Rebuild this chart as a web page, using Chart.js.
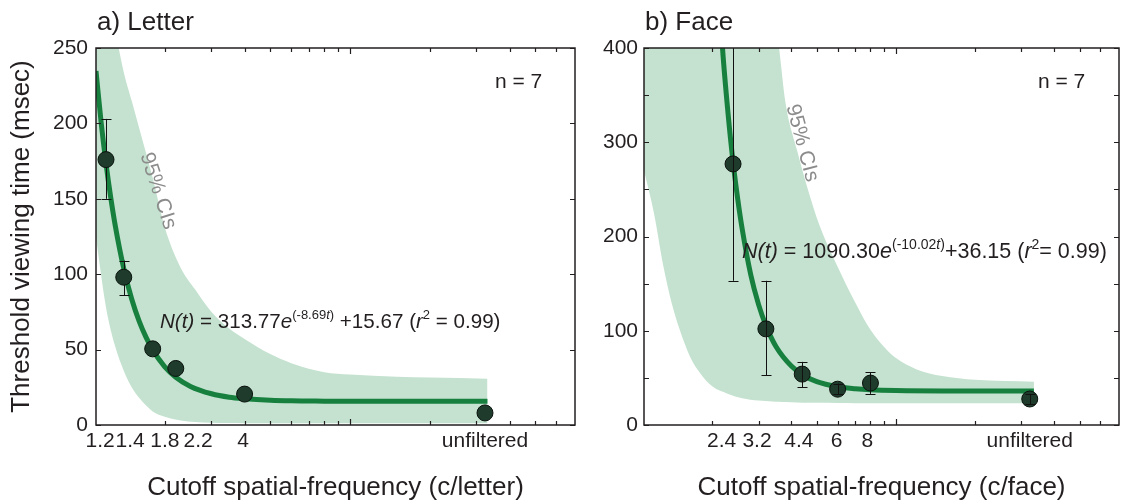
<!DOCTYPE html>
<html><head><meta charset="utf-8">
<script src="https://cdn.jsdelivr.net/npm/chart.js@4.4.1/dist/chart.umd.min.js"></script>
<style>
html,body{margin:0;padding:0;background:#fff;}
#wrap{position:relative;width:1128px;height:503px;overflow:hidden;background:#fff;}
#c1{position:absolute;left:0;top:0;}
#c2{position:absolute;left:590px;top:0;}
</style></head><body>
<div id="wrap"><canvas id="c1" width="590" height="503"></canvas><canvas id="c2" width="538" height="503"></canvas></div>
<script>
// ---------- DATA: panel a) Letter ----------
const letterCutoff    = [1.2, 1.4, 1.8, 2.2, 4, 32.3];
const letterThreshold = [176, 98, 50.5, 37.5, 20.5, 8];
const letterErrLow    = [150, 86, null, null, null, null];
const letterErrHigh   = [203, 109, null, null, null, null];
const letterFitX = [1.1, 1.15, 1.2, 1.25, 1.3, 1.4, 1.5, 1.6, 1.7, 1.8, 2.0, 2.2, 2.5, 3, 3.5, 4, 5, 6, 8, 10, 15, 20, 33];
const letterFitY = [234.7, 200.8, 173.3, 150.9, 132.3, 103.8, 83.6, 68.9, 58.1, 49.8, 38.6, 31.7, 25.6, 20.7, 18.4, 17.4, 16.4, 16.0, 15.8, 15.7, 15.7, 15.7, 15.7];
const letterBandX     = [1.1, 1.2, 1.3, 1.4, 1.5, 1.6, 1.8, 2.0, 2.3, 2.6, 3.0, 3.5, 4, 5, 6, 8, 10, 15, 20, 33];
const letterBandUpper = [335, 295, 262, 234, 215, 197, 164, 131, 104, 90, 75, 64, 57, 47, 41, 35, 33.5, 32, 31.5, 30.7];
const letterBandLower = [124, 78, 52, 36, 25, 18, 9, 5.5, 3, 2, 1.5, 1.3, 1.2, 1.2, 1.2, 1.2, 1.2, 1.2, 1.2, 1.2];
const letterTickPos    = [1.14, 1.48, 2.0, 2.67, 3.95, 32.3];
const letterTickLabels = ['1.2', '1.4', '1.8', '2.2', '4', 'unfiltered'];
const letterYTicks = [0, 50, 100, 150, 200, 250];

// ---------- DATA: panel b) Face ----------
const faceCutoff    = [2.4, 3.2, 4.4, 6, 8, 32.3];
const faceThreshold = [277, 102, 54, 38, 44.5, 27.6];
const faceErrLow    = [153, 53, 40, 33, 33, 22];
const faceErrHigh   = [450, 153, 67, 44, 56, 33];
const faceFitX = [2.1, 2.2, 2.3, 2.4, 2.5, 2.6, 2.8, 3.0, 3.2, 3.5, 4.0, 4.4, 5, 6, 7, 8, 10, 15, 20, 33.5];
const faceFitY = [471, 391, 329, 279, 240, 208, 160, 128, 105.6, 83, 62.5, 53.5, 46, 40.6, 38.5, 37.4, 36.6, 36.2, 36.2, 36.15];
const faceBandX     = [1.1, 1.2, 1.3, 1.4, 1.5, 1.65, 1.8, 2.0, 2.3, 2.6, 3.0, 3.4, 3.6, 3.8, 4.2, 4.6, 5.1, 6, 7, 8, 9, 10, 12, 15, 20, 33.5];
const faceBandUpper = [470, 470, 470, 470, 470, 470, 470, 470, 470, 470, 470, 455, 398, 342, 292, 252, 213, 168, 130, 101, 83, 71, 59, 52, 48, 46];
const faceBandLower = [270, 225, 170, 130, 102, 72, 55, 41, 33, 28.5, 26, 25, 24.7, 24.4, 24, 23.7, 23.5, 23.3, 23.2, 23, 23, 23, 23, 23, 23, 23];
const faceTickPos    = [2.17, 2.96, 4.27, 5.94, 7.78, 32.3];
const faceTickLabels = ['2.4', '3.2', '4.4', '6', '8', 'unfiltered'];
const faceYTicks = [0, 50, 100, 150, 200, 250, 300, 350, 400];

// minor log tick marks shared by both x axes
const xTickMarks = [2, 3, 4, 5, 6, 7, 8, 9, 10, 20, 30, 40, 50, 60];
const xMajorMarks = [10];

// ---------- styling ----------
const FF = '"Liberation Sans", Arial, Helvetica, sans-serif';
const TXT = '#231f20';
const BAND = '#c4e2cf';
const FIT = '#17803f';
const MARK = '#1e3b2c';

const zip = (xs, ys) => xs.map((x, i) => ({x, y: ys[i]}));

function drawRich(ctx, x, y, parts, size) {
  let cx = x;
  ctx.textBaseline = 'alphabetic';
  ctx.textAlign = 'left';
  for (const p of parts) {
    const fs = p.sup ? Math.round(size * 0.64) : size;
    ctx.font = (p.it ? 'italic ' : '') + fs + 'px ' + FF;
    const dy = p.sup ? -size * 0.42 : 0;
    ctx.fillText(p.t, cx, y + dy);
    cx += ctx.measureText(p.t).width;
  }
}

function decorPlugin(o) {
  return {
    id: 'decor',
    afterDatasetDraw(chart, args) {
      if (o.errAfterIndex === args.index) drawErr(chart);
    },
    afterDatasetsDraw(chart) {
      if (o.errAfterIndex === 'all') drawErr(chart);
    },
    afterDraw(chart) {
      const ctx = chart.ctx, a = chart.chartArea;
      const xs = chart.scales.x, ys = chart.scales.y;
      ctx.save();
      ctx.strokeStyle = TXT;
      ctx.lineWidth = 1.2;
      // tick marks (inward)
      ctx.beginPath();
      xTickMarks.forEach(v => {
        const px = Math.round(xs.getPixelForValue(v)) + 0.5;
        const len = xMajorMarks.includes(v) ? 6 : 4;
        ctx.moveTo(px, a.bottom); ctx.lineTo(px, a.bottom - len);
        ctx.moveTo(px, a.top); ctx.lineTo(px, a.top + len);
      });
      o.yMarks.forEach(v => {
        const py = Math.round(ys.getPixelForValue(v)) + 0.5;
        ctx.moveTo(a.left, py); ctx.lineTo(a.left + 5, py);
        ctx.moveTo(a.right, py); ctx.lineTo(a.right - 5, py);
      });
      ctx.stroke();
      // frame
      ctx.lineWidth = 1.5;
      ctx.strokeRect(a.left, a.top, a.right - a.left, a.bottom - a.top);
      // panel title
      ctx.fillStyle = TXT;
      ctx.font = '26px ' + FF;
      ctx.textAlign = 'left'; ctx.textBaseline = 'alphabetic';
      ctx.fillText(o.title, a.left + 1, 30);
      // n = 7
      ctx.font = '21px ' + FF;
      ctx.fillText('n = 7', a.right - o.nOff, 88);
      // equation
      drawRich(ctx, o.eqX, o.eqY, o.eq, o.eqSize);
      // 95% CIs
      ctx.save();
      ctx.fillStyle = '#8c8c8c';
      ctx.font = '21px ' + FF;
      ctx.translate(o.ciX, o.ciY);
      ctx.rotate(o.ciAng * Math.PI / 180);
      ctx.textAlign = 'center'; ctx.textBaseline = 'middle';
      ctx.fillText('95% CIs', 0, 0);
      ctx.restore();
      ctx.restore();
    }
  };
  function drawErr(chart) {
    const ctx = chart.ctx, a = chart.chartArea;
    const xs = chart.scales.x, ys = chart.scales.y;
    ctx.save();
    ctx.beginPath(); ctx.rect(a.left, a.top, a.right - a.left, a.bottom - a.top); ctx.clip();
    ctx.strokeStyle = '#111'; ctx.lineWidth = 1;
    ctx.beginPath();
    o.cx.forEach((x, i) => {
      if (o.lo[i] == null) return;
      const px = Math.round(xs.getPixelForValue(x)) + 0.5;
      const y1 = ys.getPixelForValue(o.lo[i]), y2 = ys.getPixelForValue(o.hi[i]);
      ctx.moveTo(px, y1); ctx.lineTo(px, y2);
      ctx.moveTo(px - 5, Math.round(y1) + 0.5); ctx.lineTo(px + 5, Math.round(y1) + 0.5);
      ctx.moveTo(px - 5, Math.round(y2) + 0.5); ctx.lineTo(px + 5, Math.round(y2) + 0.5);
    });
    ctx.stroke();
    ctx.restore();
  }
}

function makeChart(id, d) {
  return new Chart(document.getElementById(id), {
    type: 'scatter',
    data: { datasets: [
      { data: zip(d.bandX, d.bandUp), showLine: true, borderWidth: 0, borderColor: 'rgba(0,0,0,0)',
        pointRadius: 0, fill: '+1', backgroundColor: BAND, cubicInterpolationMode: 'monotone', order: 3, clip: 0 },
      { data: zip(d.bandX, d.bandLo), showLine: true, borderWidth: 0, borderColor: 'rgba(0,0,0,0)',
        pointRadius: 0, fill: false, cubicInterpolationMode: 'monotone', order: 4, clip: 0 },
      { data: zip(d.fitX, d.fitY), showLine: true, borderColor: FIT, borderWidth: 5, pointRadius: 0,
        fill: false, cubicInterpolationMode: 'monotone', order: 2, clip: 0 },
      { data: zip(d.cx, d.cy), showLine: false, pointRadius: 8, pointHoverRadius: 8,
        backgroundColor: MARK, borderColor: '#0a120d', borderWidth: 1, order: 1 }
    ]},
    options: {
      animation: false, responsive: false, events: [],
      layout: { padding: { top: 48, right: d.padR, left: 0, bottom: 0 } },
      plugins: { legend: { display: false }, tooltip: { enabled: false } },
      scales: {
        x: {
          type: 'logarithmic', position: 'bottom', min: 1.1, max: 70.6,
          grid: { display: false, drawTicks: false }, border: { display: false },
          afterBuildTicks: s => { s.ticks = d.tickPos.map(v => ({ value: v })); },
          afterFit: s => { s.height = 78; },
          ticks: { autoSkip: false, maxRotation: 0, minRotation: 0, padding: 4, color: TXT,
            font: { family: FF, size: 21 }, callback: (v, i) => d.tickLabels[i] },
          title: { display: true, text: d.xTitle, color: TXT, font: { family: FF, size: 26 }, padding: { top: 0, bottom: 0 } }
        },
        y: {
          type: 'linear', min: 0, max: d.yMax,
          grid: { display: false, drawTicks: false }, border: { display: false },
          afterFit: s => { s.width = d.yWidth; },
          ticks: { stepSize: d.yStep, padding: d.yPad, color: TXT, font: { family: FF, size: 21 } },
          title: { display: !!d.yTitle, text: d.yTitle || '', color: TXT, font: { family: FF, size: 26 }, padding: { top: 6, bottom: 0 } }
        }
      }
    },
    plugins: [decorPlugin(d.decor)]
  });
}

makeChart('c1', {
  bandX: letterBandX, bandUp: letterBandUpper, bandLo: letterBandLower,
  fitX: letterFitX, fitY: letterFitY, cx: letterCutoff, cy: letterThreshold,
  tickPos: letterTickPos, tickLabels: letterTickLabels,
  xTitle: 'Cutoff spatial-frequency (c/letter)', yTitle: 'Threshold viewing time (msec)',
  yMax: 250, yStep: 50, yWidth: 96, yPad: 8, padR: 15,
  decor: {
    title: 'a) Letter', nOff: 80, yMarks: letterYTicks,
    cx: letterCutoff, lo: letterErrLow, hi: letterErrHigh, errAfterIndex: 2,
    eqX: 160, eqY: 328, eqSize: 20.6,
    eq: [{t:'N(t)', it:1}, {t:' = 313.77'}, {t:'e', it:1}, {t:'(-8.69', sup:1}, {t:'t', sup:1, it:1}, {t:')', sup:1},
         {t:' +15.67 ('}, {t:'r', it:1}, {t:'2', sup:1}, {t:' = 0.99)'}],
    ciX: 158, ciY: 191, ciAng: 72
  }
});

makeChart('c2', {
  bandX: faceBandX, bandUp: faceBandUpper, bandLo: faceBandLower,
  fitX: faceFitX, fitY: faceFitY, cx: faceCutoff, cy: faceThreshold,
  tickPos: faceTickPos, tickLabels: faceTickLabels,
  xTitle: 'Cutoff spatial-frequency (c/face)', yTitle: null,
  yMax: 400, yStep: 100, yWidth: 54, yPad: 6, padR: 5,
  decor: {
    title: 'b) Face', nOff: 81, yMarks: faceYTicks,
    cx: faceCutoff, lo: faceErrLow, hi: faceErrHigh, errAfterIndex: 'all',
    eqX: 152, eqY: 258, eqSize: 21.5,
    eq: [{t:'N(t)', it:1}, {t:' = 1090.30'}, {t:'e', it:1}, {t:'(-10.02', sup:1}, {t:'t', sup:1, it:1}, {t:')', sup:1},
         {t:'+36.15 ('}, {t:'r', it:1}, {t:'2', sup:1}, {t:'= 0.99)'}],
    ciX: 212, ciY: 143, ciAng: 75
  }
});
</script>
</body></html>
